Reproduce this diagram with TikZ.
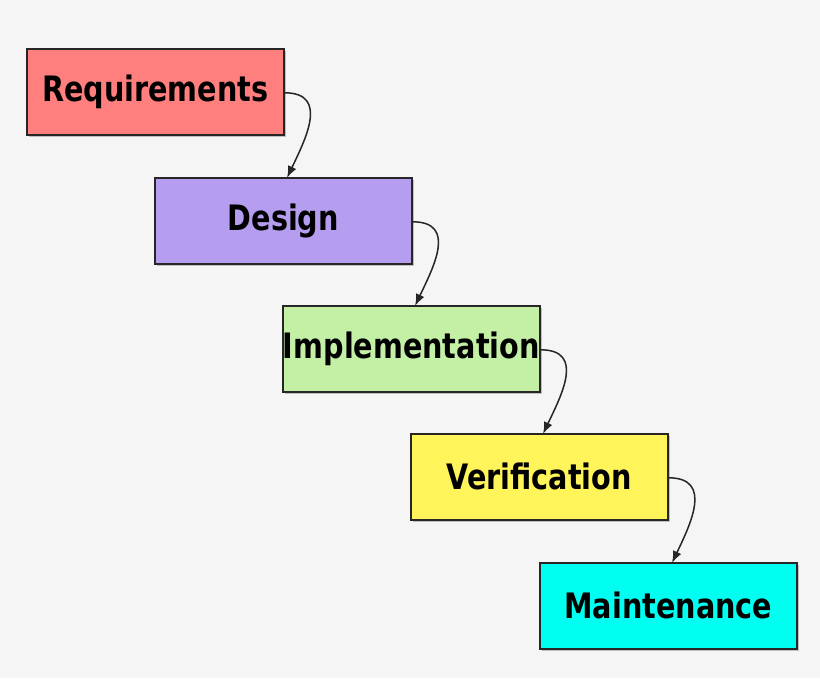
\documentclass[tikz,border=0pt]{standalone}
\usepackage{fontspec}
\setmainfont{DejaVu Sans Condensed}[BoldFont={DejaVu Sans Condensed Bold}]
\usetikzlibrary{arrows.meta}
\newcommand{\narrowtext}[1]{\scalebox{0.91}[1]{#1}}
\begin{document}
\begin{tikzpicture}[x=1pt,y=-1pt,
  stage/.style={draw=black!85,line width=1.6pt,minimum width=257pt,minimum height=86pt,anchor=north west,inner sep=0pt,font=\fontsize{35}{40}\selectfont\bfseries},
  flow/.style={-{Latex[length=12pt,width=9pt]},line width=1.5pt,black!85}]
\fill[black!4] (0,0) rectangle (820,678);
\useasboundingbox (0,0) rectangle (820,678);
\foreach \x/\y in {26/48,154/177,282/305,410/433,539/562}
  \fill[black!25] (\x+3,\y+3) rectangle (\x+260,\y+89);
\node[stage,fill={rgb,255:red,255;green,127;blue,127}] (r) at (26,48) {\narrowtext{Requirements}};
\node[stage,fill={rgb,255:red,181;green,158;blue,240}] (d) at (154,177) {\narrowtext{Design}};
\node[stage,fill={rgb,255:red,196;green,240;blue,166}] (i) at (282,305) {\narrowtext{Implementation}};
\node[stage,fill={rgb,255:red,255;green,244;blue,90}] (v) at (410,433) {\narrowtext{Verification}};
\node[stage,fill={rgb,255:red,0;green,255;blue,240}] (m) at (539,562) {\narrowtext{Maintenance}};
\foreach \a/\b in {r/d,d/i,i/v,v/m}
  \draw[flow] ([yshift=-1pt]\a.east) .. controls ++(45,0) and ++(18,-38) .. ([xshift=133pt,yshift=-1pt]\b.north west);
\end{tikzpicture}
\end{document}
